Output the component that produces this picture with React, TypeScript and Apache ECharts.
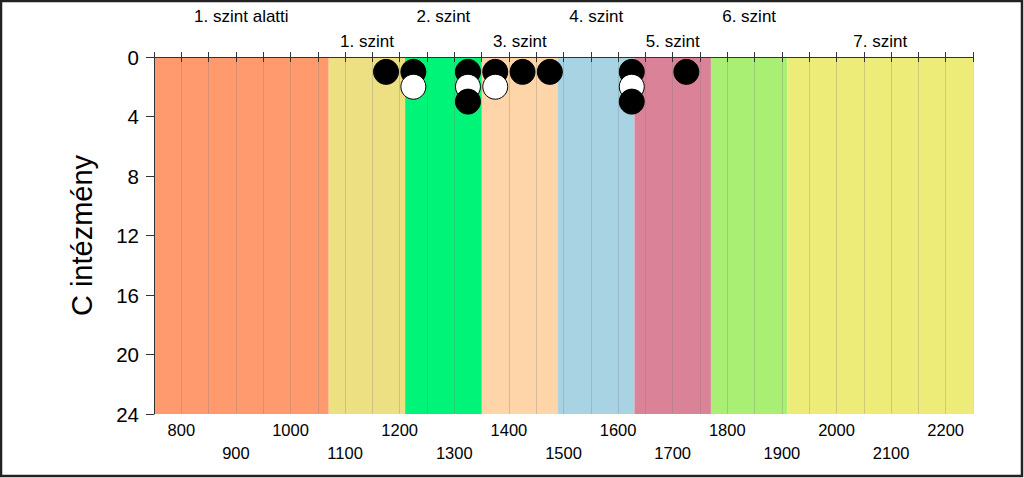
import React, { useEffect, useRef } from "react";
import * as echarts from "echarts";

// Levels (bands on the x axis)
const bandNames = ["1. szint alatti", "1. szint", "2. szint", "3. szint", "4. szint", "5. szint", "6. szint", "7. szint"];
const bandStarts = [750, 1070, 1210, 1350, 1490, 1630, 1770, 1910];
const bandEnds = [1070, 1210, 1350, 1490, 1630, 1770, 1910, 2250];
const bandColors = ["#FF9A6E", "#ECE083", "#00F578", "#FED5A9", "#A7D3E2", "#DA8398", "#A8EF74", "#EEEC79"];

// Points: x score, y institution count, filled (1) or hollow (0)
const pointX = [1175, 1225, 1225, 1325, 1325, 1325, 1375, 1375, 1425, 1475, 1625, 1625, 1625, 1725];
const pointY = [1, 1, 2, 1, 2, 3, 1, 2, 1, 1, 1, 2, 3, 1];
const pointFilled = [1, 1, 0, 1, 0, 1, 1, 0, 1, 1, 1, 0, 1, 1];

// Axis settings
const xMin = 750;
const xMax = 2250;
const xStep = 50;
const yMin = 0;
const yMax = 24;
const yStep = 4;
const yName = "C intézmény";

const FONT = "'Liberation Sans', Arial, sans-serif";

export default function App() {
  const ref = useRef<HTMLDivElement>(null);

  useEffect(() => {
    document.body.style.margin = "0";
    const chart = echarts.init(ref.current!, null, { renderer: "svg" });

    const markData = bandNames.map((name, i) => [
      {
        name,
        xAxis: bandStarts[i],
        itemStyle: { color: bandColors[i], opacity: 1 },
        label: {
          show: true,
          position: "top",
          distance: i % 2 === 0 ? 32 : 7,
          color: "#000",
          fontSize: 17,
          fontFamily: FONT,
          formatter: name,
        },
      },
      { xAxis: bandEnds[i] },
    ]);

    const order = pointX.map((_, i) => i).sort((a, b) => pointY[a] - pointY[b] || a - b);
    const scatterData = order.map((i) => ({
      value: [pointX[i], pointY[i]],
      itemStyle: {
        color: pointFilled[i] ? "#000" : "#fff",
        borderColor: "#000",
        borderWidth: 1,
        opacity: 1,
      },
    }));

    chart.setOption({
      animation: false,
      backgroundColor: "#fff",
      grid: { left: 154, right: 51, top: 57, bottom: 64, containLabel: false },
      xAxis: [
        {
          type: "value",
          position: "bottom",
          min: xMin,
          max: xMax,
          interval: xStep,
          z: 5,
          axisLine: { show: true, lineStyle: { color: "#333", width: 1 } },
          axisTick: { show: true, length: 5, lineStyle: { color: "#333" } },
          axisLabel: {
            color: "#000",
            fontSize: 16.5,
            fontFamily: FONT,
            margin: 4,
            lineHeight: 23,
            formatter: (v: number) => (v % 200 === 0 ? String(v) : v % 100 === 0 ? "\n" + v : ""),
          },
          splitLine: { show: true, lineStyle: { color: "rgba(120,120,120,0.28)", width: 1 } },
        },
        {
          type: "value",
          position: "top",
          min: xMin,
          max: xMax,
          interval: xStep,
          z: 5,
          axisLine: { show: true, lineStyle: { color: "#333", width: 1 } },
          axisTick: { show: true, length: 5, lineStyle: { color: "#333" } },
          axisLabel: { show: false },
          splitLine: { show: false },
        },
      ],
      yAxis: {
        type: "value",
        inverse: true,
        min: yMin,
        max: yMax,
        interval: yStep,
        name: yName,
        nameLocation: "middle",
        nameGap: 58,
        nameTextStyle: { color: "#000", fontSize: 29, fontFamily: FONT },
        z: 5,
        axisLine: { show: true, lineStyle: { color: "#333", width: 1 } },
        axisTick: { show: true, length: 8, lineStyle: { color: "#333" } },
        axisLabel: { color: "#000", fontSize: 20.5, fontFamily: FONT, margin: 15 },
        splitLine: { show: false },
      },
      series: [
        {
          type: "scatter",
          xAxisIndex: 0,
          data: [],
          z: 1,
          markArea: { silent: true, data: markData },
        },
        {
          type: "scatter",
          xAxisIndex: 0,
          z: 10,
          symbol: "circle",
          symbolSize: 25,
          itemStyle: { opacity: 1 },
          data: scatterData,
        },
      ],
      graphic: [
        {
          type: "rect",
          shape: { x: 1, y: 1, width: 1021, height: 475 },
          style: { fill: "none", stroke: "#222", lineWidth: 2.5 },
          z: 100,
        },
      ],
    });

    return () => chart.dispose();
  }, []);

  return <div ref={ref} style={{ position: "absolute", left: 0, top: 0, width: 1024, height: 478 }} />;
}
